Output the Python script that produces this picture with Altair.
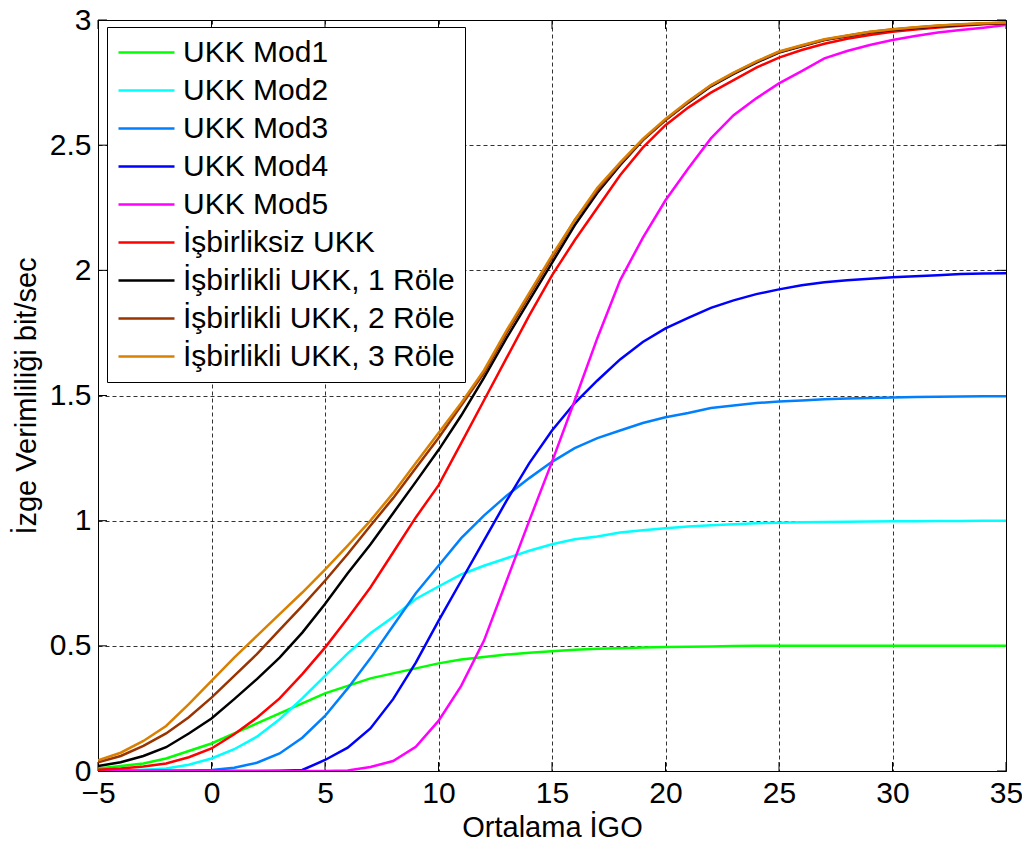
import altair as alt
import pandas as pd

snr = list(range(-5, 36))

names = ["UKK Mod1", "UKK Mod2", "UKK Mod3", "UKK Mod4", "UKK Mod5",
         "İşbirliksiz UKK", "İşbirlikli UKK, 1 Röle", "İşbirlikli UKK, 2 Röle",
         "İşbirlikli UKK, 3 Röle"]
colors = ["#00FF00", "#00FFFF", "#0080FF", "#0000FF", "#FF00FF",
          "#FF0000", "#000000", "#993300", "#D98000"]

mod1 = [0.01, 0.02, 0.03, 0.05, 0.08, 0.11, 0.15, 0.19, 0.23, 0.27, 0.31,
        0.34, 0.37, 0.39, 0.41, 0.43, 0.445, 0.455, 0.465, 0.472, 0.478,
        0.484, 0.488, 0.49, 0.493, 0.495, 0.496, 0.497, 0.499, 0.5, 0.5,
        0.5, 0.5, 0.5, 0.5, 0.5, 0.5, 0.5, 0.5, 0.5, 0.5]
mod2 = [0.0, 0.002, 0.005, 0.01, 0.025, 0.05, 0.087, 0.137, 0.207, 0.29, 0.38,
        0.47, 0.55, 0.615, 0.687, 0.737, 0.785, 0.82, 0.85, 0.88, 0.906,
        0.926, 0.937, 0.953, 0.962, 0.97, 0.977, 0.982, 0.986, 0.99, 0.992,
        0.994, 0.995, 0.996, 0.997, 0.998, 0.998, 0.999, 0.999, 1.0, 1.0]
mod3 = [0.0, 0.0, 0.0, 0.001, 0.002, 0.004, 0.013, 0.033, 0.07, 0.133, 0.22,
        0.33, 0.45, 0.58, 0.71, 0.82, 0.93, 1.02, 1.1, 1.17, 1.235,
        1.29, 1.33, 1.36, 1.39, 1.413, 1.43, 1.45, 1.46, 1.47, 1.476,
        1.48, 1.485, 1.488, 1.49, 1.492, 1.494, 1.495, 1.496, 1.497, 1.497]
mod4 = [0.0, 0.0, 0.0, 0.0, 0.0, 0.0, 0.0, 0.0, 0.001, 0.004, 0.044,
        0.093, 0.17, 0.287, 0.433, 0.6, 0.76, 0.92, 1.08, 1.23, 1.36,
        1.47, 1.56, 1.644, 1.714, 1.768, 1.81, 1.85, 1.88, 1.905, 1.924,
        1.94, 1.952, 1.96, 1.966, 1.972, 1.976, 1.98, 1.985, 1.987, 1.988]
mod5 = [0.0, 0.0, 0.0, 0.0, 0.0, 0.0, 0.0, 0.0, 0.0, 0.0, 0.0,
        0.002, 0.016, 0.04, 0.097, 0.2, 0.34, 0.52, 0.76, 1.0, 1.235,
        1.48, 1.73, 1.96, 2.13, 2.28, 2.407, 2.527, 2.62, 2.687, 2.747,
        2.796, 2.847, 2.876, 2.9, 2.92, 2.936, 2.95, 2.96, 2.969, 2.98]
coop0 = [0.005, 0.01, 0.018, 0.03, 0.055, 0.09, 0.147, 0.213, 0.29, 0.387, 0.493,
         0.61, 0.733, 0.873, 1.013, 1.141, 1.31, 1.48, 1.65, 1.82, 1.98,
         2.12, 2.25, 2.38, 2.49, 2.58, 2.65, 2.71, 2.76, 2.81, 2.85,
         2.88, 2.905, 2.925, 2.94, 2.953, 2.962, 2.97, 2.977, 2.983, 2.987]
coop1 = [0.02, 0.035, 0.06, 0.095, 0.15, 0.21, 0.287, 0.367, 0.453, 0.553, 0.667,
         0.79, 0.905, 1.03, 1.155, 1.282, 1.42, 1.57, 1.73, 1.88, 2.03,
         2.18, 2.31, 2.42, 2.52, 2.6, 2.67, 2.735, 2.785, 2.83, 2.87,
         2.895, 2.92, 2.935, 2.95, 2.96, 2.968, 2.975, 2.98, 2.985, 2.988]
coop2 = [0.035, 0.06, 0.1, 0.15, 0.215, 0.293, 0.38, 0.467, 0.564, 0.66, 0.76,
         0.867, 0.98, 1.09, 1.21, 1.33, 1.46, 1.59, 1.75, 1.9, 2.05,
         2.2, 2.32, 2.425, 2.52, 2.6, 2.672, 2.738, 2.788, 2.833, 2.872,
         2.897, 2.921, 2.937, 2.952, 2.962, 2.97, 2.977, 2.982, 2.986, 2.989]
coop3 = [0.043, 0.073, 0.12, 0.18, 0.267, 0.36, 0.453, 0.54, 0.627, 0.713, 0.804,
         0.9, 1.0, 1.11, 1.23, 1.35, 1.47, 1.6, 1.76, 1.91, 2.06,
         2.2, 2.33, 2.43, 2.525, 2.605, 2.675, 2.74, 2.79, 2.835, 2.874,
         2.899, 2.923, 2.938, 2.953, 2.963, 2.971, 2.978, 2.983, 2.987, 2.99]

series = [mod1, mod2, mod3, mod4, mod5, coop0, coop1, coop2, coop3]

x_ticks = [-5, 0, 5, 10, 15, 20, 25, 30, 35]
y_ticks = [0, 0.5, 1, 1.5, 2, 2.5, 3]

rows = []
for i, (n, s) in enumerate(zip(names, series)):
    for x, v in zip(snr, s):
        rows.append({"snr": x, "val": v, "name": n, "order": i})
df = pd.DataFrame(rows)

W, H = 908, 751
FONT = "Liberation Sans"
LFS = 30
TFS = 29

xscale = alt.Scale(domain=[-5, 35], nice=False, zero=False)
yscale = alt.Scale(domain=[0, 3], nice=False, zero=False)

lines = alt.Chart(df).mark_line(strokeWidth=2.5, clip=True).encode(
    x=alt.X("snr:Q", scale=xscale,
            axis=alt.Axis(values=x_ticks, title="Ortalama İGO", grid=True,
                          gridDash=[4, 3], gridColor="#000000", gridOpacity=0.8,
                          gridWidth=1, tickSize=0, labelPadding=7,
                          labelFontSize=LFS, titleFontSize=TFS, labelFont=FONT,
                          titleFont=FONT, labelColor="#000", titleColor="#000",
                          titleFontWeight="normal", titlePadding=5,
                          domain=False, labelFlush=False)),
    y=alt.Y("val:Q", scale=yscale,
            axis=alt.Axis(values=y_ticks, title="İzge Verimliliği bit/sec",
                          labelExpr="'' + datum.value",
                          grid=True, gridDash=[4, 3], gridColor="#000000",
                          gridOpacity=0.8, gridWidth=1, tickSize=0,
                          labelPadding=7, labelFontSize=LFS, titleFontSize=TFS,
                          labelFont=FONT, titleFont=FONT, labelColor="#000",
                          titleColor="#000", titleFontWeight="normal",
                          titlePadding=8, domain=False, labelFlush=False)),
    color=alt.Color("name:N",
                    scale=alt.Scale(domain=names, range=colors),
                    legend=alt.Legend(title=None, orient="none",
                                      legendX=9, legendY=7,
                                      symbolType="M-1,0H3",
                                      symbolSize=784,
                                      symbolStrokeWidth=2.5,
                                      symbolFillColor="transparent",
                                      labelFontSize=LFS, labelFont=FONT,
                                      labelColor="#000", labelLimit=500,
                                      rowPadding=7, labelOffset=35,
                                      padding=10,
                                      fillColor="white",
                                      strokeColor="black")),
    order="order:Q",
    detail="name:N",
)

# inward ticks (MATLAB style)
xt = pd.DataFrame({"t": x_ticks})
yt = pd.DataFrame({"t": y_ticks})
xtick_b = alt.Chart(xt).mark_rule(color="black", strokeWidth=1).encode(
    x=alt.X("t:Q", scale=xscale), y=alt.value(H), y2=alt.value(H - 9))
xtick_t = alt.Chart(xt).mark_rule(color="black", strokeWidth=1).encode(
    x=alt.X("t:Q", scale=xscale), y=alt.value(0), y2=alt.value(9))
ytick_l = alt.Chart(yt).mark_rule(color="black", strokeWidth=1).encode(
    y=alt.Y("t:Q", scale=yscale), x=alt.value(0), x2=alt.value(9))
ytick_r = alt.Chart(yt).mark_rule(color="black", strokeWidth=1).encode(
    y=alt.Y("t:Q", scale=yscale), x=alt.value(W), x2=alt.value(W - 9))

chart = alt.layer(xtick_b, xtick_t, ytick_l, ytick_r, lines).properties(
    width=W, height=H,
    autosize=alt.AutoSizeParams(type="none"),
    padding={"left": 90, "top": 12, "right": 16, "bottom": 70},
    background="white",
).configure_view(stroke="black", strokeWidth=1)

chart.save("out.html", embed_options={"renderer": "svg", "actions": False})
